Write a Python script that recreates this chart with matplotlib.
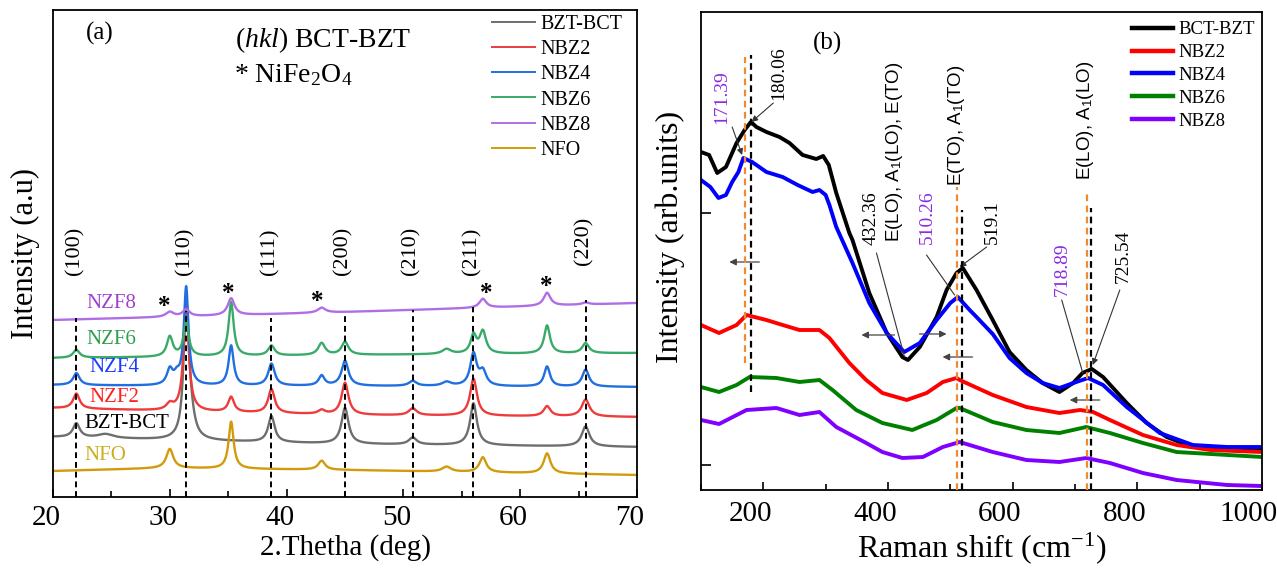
import numpy as np
import matplotlib
matplotlib.use("Agg")
import matplotlib.pyplot as plt
from matplotlib.lines import Line2D
from matplotlib.ticker import MultipleLocator
from matplotlib.transforms import ScaledTranslation

plt.rcParams['font.family'] = ['Liberation Serif', 'DejaVu Serif']
plt.rcParams['mathtext.fontset'] = 'custom'
plt.rcParams['mathtext.rm'] = 'Liberation Serif'
plt.rcParams['mathtext.it'] = 'Liberation Serif:italic'
plt.rcParams['mathtext.sf'] = 'Liberation Sans'

# ---------------- Panel (a): XRD data ----------------
xrd_base_x = [20, 30, 45, 70]

bzt_bct_pos = [22.0, 24.5, 31.4, 31.75, 38.7, 45.0, 50.8, 56.0, 65.6]
bzt_bct_h = [14, 4, 128, 22, 26, 36, 7, 42, 20]
bzt_bct_w = [0.35, 0.8, 0.26, 0.4, 0.33, 0.36, 0.4, 0.35, 0.4]
bzt_bct_base = [60, 57, 53, 50]

nzf2_pos = [22.0, 30.0, 31.4, 35.25, 38.7, 43.0, 45.0, 50.8, 56.0, 62.3, 65.6]
nzf2_h = [15, 6, 111, 15, 24, 4, 32, 7, 37, 10, 17]
nzf2_w = [0.33, 0.35, 0.26, 0.3, 0.33, 0.35, 0.35, 0.4, 0.35, 0.35, 0.4]
nzf2_base = [89, 86, 82, 80]

nzf4_pos = [22.0, 30.0, 30.6, 31.4, 35.25, 38.7, 43.0, 45.0, 50.8, 53.7, 56.0, 56.8, 62.3, 65.6]
nzf4_h = [12, 15, 8, 98, 40, 22, 10, 25, 5, 4, 32, 14, 20, 17]
nzf4_w = [0.33, 0.3, 0.3, 0.24, 0.26, 0.33, 0.3, 0.35, 0.4, 0.45, 0.33, 0.35, 0.3, 0.35]
nzf4_base = [112, 111, 111, 110]

nzf6_pos = [22.0, 30.0, 31.4, 35.25, 38.7, 43.0, 45.0, 53.7, 56.0, 56.8, 62.3, 65.6]
nzf6_h = [8, 20, 35, 54, 10, 12, 13, 5, 18, 22, 28, 10]
nzf6_w = [0.33, 0.3, 0.26, 0.26, 0.33, 0.35, 0.35, 0.45, 0.3, 0.33, 0.3, 0.35]
nzf6_base = [139, 140, 142, 144]

nzf8_pos = [30.0, 31.4, 35.25, 43.0, 56.8, 62.3, 65.6]
nzf8_h = [5, 7, 17, 5, 9, 13, 2]
nzf8_w = [0.4, 0.35, 0.35, 0.4, 0.35, 0.35, 0.35]
nzf8_base = [177, 180, 185, 194]

nfo_pos = [30.0, 35.25, 43.0, 53.7, 56.8, 62.3]
nfo_h = [19, 47, 9, 5, 15, 20]
nfo_w = [0.35, 0.26, 0.35, 0.45, 0.35, 0.35]
nfo_base = [26, 29, 27, 22]

hkl_labels = ['(100)', '(110)', '(111)', '(200)', '(210)', '(211)', '(220)']
hkl_pos = [22.0, 31.4, 38.7, 45.0, 50.8, 56.0, 65.6]
hkl_line_top = [179, 186, 179, 184, 187, 190, 197]
star_pos = [29.5, 35.0, 42.6, 57.1, 62.2]
star_y = [194, 207, 199, 207, 214]

# ---------------- Panel (b): Raman data ----------------
bct_x = [100, 113, 126, 140, 157, 170, 180, 189, 205, 226, 242, 263, 285, 296, 305, 317, 338, 343, 370, 398,
         423, 432, 451, 478, 494, 510, 520, 542, 568, 595, 622, 648, 675, 697, 712, 727, 745, 783, 815, 847,
         889, 944, 1000]
bct_y = [348, 345, 327, 333, 357, 370, 378, 373, 368, 363, 357, 345, 341, 344, 335, 307, 267, 260, 207, 167,
         143, 140, 153, 183, 210, 227, 232, 210, 180, 148, 130, 117, 108, 117, 127, 131, 123, 97, 77, 63,
         53, 52, 50]

nbz4_x = [100, 115, 128, 140, 150, 160, 168, 182, 205, 231, 255, 279, 290, 300, 306, 317, 343, 370, 398, 426,
          451, 478, 500, 512, 531, 542, 568, 595, 622, 648, 675, 702, 721, 745, 783, 836, 889, 944, 1000]
nbz4_y = [320, 313, 302, 305, 318, 328, 342, 338, 328, 323, 315, 308, 310, 305, 295, 273, 237, 197, 167, 148,
          157, 180, 197, 203, 190, 183, 166, 142, 127, 117, 112, 118, 122, 115, 93, 67, 55, 53, 53]

nbz2_x = [100, 129, 157, 173, 205, 231, 258, 290, 306, 338, 365, 391, 430, 462, 488, 510, 515, 568, 622, 675,
          708, 729, 756, 809, 863, 917, 1000]
nbz2_y = [175, 167, 175, 185, 180, 175, 170, 170, 162, 137, 120, 107, 100, 107, 118, 122, 120, 105, 93, 87,
          90, 88, 80, 65, 55, 50, 48]

nbz6_x = [100, 129, 157, 178, 221, 258, 290, 311, 349, 391, 439, 478, 510, 515, 568, 622, 675, 718, 756, 809,
          863, 1000]
nbz6_y = [113, 108, 115, 123, 122, 118, 120, 110, 90, 77, 70, 80, 92, 92, 78, 70, 67, 73, 67, 57,
          48, 43]

nbz8_x = [100, 129, 173, 221, 258, 290, 317, 365, 391, 423, 456, 488, 515, 568, 622, 675, 718, 756, 809, 863,
          944, 1000]
nbz8_y = [80, 76, 90, 92, 85, 88, 73, 57, 48, 42, 43, 53, 58, 48, 40, 38, 42, 37, 27, 20,
          15, 14]

raman_peaks_orange = [171.39, 510.26, 718.89]
raman_peaks_black = [180.06, 519.1, 725.54]

# ---------------- figure ----------------
fig = plt.figure(figsize=(12.77, 5.71), dpi=100)
axa = fig.add_axes([53 / 1277, 1 - 497 / 571, (637 - 53) / 1277, (497 - 10) / 571])
axb = fig.add_axes([701 / 1277, 1 - 490 / 571, (1262 - 701) / 1277, (490 - 12) / 571])

tx = np.linspace(20, 70, 4001)


def profile(pos, h, w, base):
    y = np.interp(tx, xrd_base_x, base)
    for p, a, g in zip(pos, h, w):
        y = y + a * g ** 2 / ((tx - p) ** 2 + g ** 2)
    return y


series_a = [
    ('BZT-BCT', '#6e6e6e', bzt_bct_pos, bzt_bct_h, bzt_bct_w, bzt_bct_base),
    ('NBZ2', '#ee3b3b', nzf2_pos, nzf2_h, nzf2_w, nzf2_base),
    ('NBZ4', '#1f6fe0', nzf4_pos, nzf4_h, nzf4_w, nzf4_base),
    ('NBZ6', '#3aaa6a', nzf6_pos, nzf6_h, nzf6_w, nzf6_base),
    ('NBZ8', '#b06ee6', nzf8_pos, nzf8_h, nzf8_w, nzf8_base),
    ('NFO', '#d29b0b', nfo_pos, nfo_h, nfo_w, nfo_base),
]
for name, col, pos, h, w, base in series_a:
    axa.plot(tx, profile(pos, h, w, base), color=col, lw=1.7, label=name)

for p, top in zip(hkl_pos, hkl_line_top):
    axa.plot([p, p], [0, top], ls=(0, (3, 2)), color='black', lw=1.4, zorder=5)
for lab, p, top in zip(hkl_labels, hkl_pos, hkl_line_top):
    axa.text(p - 0.15, 222 if lab != '(220)' else 232, lab, rotation=90, ha='center', va='bottom',
             fontsize=16)
for p, yv in zip(star_pos, star_y):
    axa.text(p, yv - 10, '*', ha='center', va='baseline', fontsize=18, fontweight='bold')

axa.text(24.0, 464, '(a)', ha='center', va='center', fontsize=18)
axa.text(35.6, 450, r'$\mathit{(hkl)}$ BCT-BZT', ha='left', va='baseline', fontsize=20)
axa.text(35.5, 415, r'* NiFe$_2$O$_4$', ha='left', va='baseline', fontsize=20)

curve_labels = ['NZF8', 'NZF6', 'NZF4', 'NZF2', 'BZT-BCT', 'NFO']
curve_label_x = [22.9, 22.9, 23.1, 23.1, 22.65, 22.65]
curve_label_y = [194, 157, 130, 99, 74, 42]
curve_label_c = ['#a040d0', '#2e9e4f', '#1a3cff', '#ff2020', 'black', '#c8b020']
for t, x, y, c in zip(curve_labels, curve_label_x, curve_label_y, curve_label_c):
    axa.text(x, y, t, color=c, ha='left', va='center', fontsize=15)

axa.set_xlim(20, 70)
axa.set_ylim(0, 487)
axa.set_yticks([])
axa.xaxis.set_major_locator(MultipleLocator(10))
axa.xaxis.set_minor_locator(MultipleLocator(5))
axa.tick_params(axis='x', which='major', direction='in', length=6, width=1.2, labelsize=21, pad=6)
axa.tick_params(axis='x', which='minor', direction='in', length=4, width=1.2)
axa.set_xlabel('2.Thetha (deg)', fontsize=21, labelpad=2)
axa.set_ylabel('Intensity (a.u)', fontsize=22)
axa.yaxis.set_label_coords(-0.048, 0.5)
axa.yaxis.label.set_verticalalignment('center')
for sp in axa.spines.values():
    sp.set_linewidth(1.3)
leg_a = [Line2D([0], [0], color=c, lw=1.4) for _, c, *_ in series_a]
axa.legend(leg_a, [s[0] for s in series_a], loc='upper left',
           bbox_to_anchor=(492 / 1277, 1 - 15 / 571), bbox_transform=fig.transFigure, frameon=False,
           fontsize=14.5, handlelength=2.14, handletextpad=0.25, labelspacing=0.3, borderpad=0,
           borderaxespad=0)

# ---------------- panel (b) ----------------
series_b = [
    ('BCT-BZT', 'black', bct_x, bct_y),
    ('NBZ2', '#ff0000', nbz2_x, nbz2_y),
    ('NBZ4', '#0000ff', nbz4_x, nbz4_y),
    ('NBZ6', '#008000', nbz6_x, nbz6_y),
    ('NBZ8', '#7f00ff', nbz8_x, nbz8_y),
]
for name, col, xs, ys in series_b:
    axb.plot(xs, ys, color=col, lw=2.8, label=name, solid_joinstyle='round')

orange = '#f08a30'
purple_txt = '#8a2be2'
orange_top = [443, 313, 307]
orange_bot = [137, 10, 10]
black_top = [445, 290, 292]
black_bot = [108, 10, 10]
for p, t, b in zip(raman_peaks_orange, orange_top, orange_bot):
    axb.plot([p, p], [b, t], ls=(0, (3, 2)), color=orange, lw=1.6, zorder=4)
for p, t, b in zip(raman_peaks_black, black_top, black_bot):
    axb.plot([p, p], [b, t], ls=(0, (3, 2)), color='black', lw=1.6, zorder=4)

axb.text(828 / 1277, 1 - 43 / 571, '(b)', transform=fig.transFigure, ha='center', va='center', fontsize=18)

num_kw = dict(rotation=90, ha='center', va='center', fontsize=14)
axb.text(132.5, 403, '171.39', color=purple_txt, **num_kw)
axb.text(224, 427, '180.06', color='black', **num_kw)
axb.text(373.5, 282, '432.36', color='black', **num_kw)
axb.text(463.5, 283, '510.26', color=purple_txt, **num_kw)
axb.text(568, 278, '519.1', color='black', **num_kw)
axb.text(679, 231, '718.89', color=purple_txt, **num_kw)
axb.text(778, 244, '725.54', color='black', **num_kw)

mode_kw = dict(rotation=90, ha='center', va='center', fontsize=13.5, family=['Liberation Sans', 'DejaVu Sans'])
axb.text(410.4, 348, r'E(LO), A$_\mathsf{1}$(LO), E(TO)', **mode_kw)
axb.text(510, 375, r'E(TO), A$_\mathsf{1}$(TO)', **mode_kw)
axb.text(717, 380, r'E(LO), A$_\mathsf{1}$(LO)', **mode_kw)

lead = dict(arrowstyle='-|>', lw=0.8, color='#333333', mutation_scale=9, shrinkA=0, shrinkB=0)
plain = dict(arrowstyle='-', lw=0.8, color='#333333', shrinkA=0, shrinkB=0)
axb.annotate('', xy=(181, 378), xytext=(216, 397), arrowprops=lead)
axb.annotate('', xy=(166, 345), xytext=(150, 373), arrowprops=lead)
axb.annotate('', xy=(426.5, 143), xytext=(381.5, 247), arrowprops=plain)
axb.annotate('', xy=(506.8, 205), xytext=(461.8, 245), arrowprops=plain)
axb.annotate('', xy=(514.9, 233), xytext=(558.2, 253), arrowprops=lead)
axb.annotate('', xy=(712.5, 127), xytext=(678.7, 200), arrowprops=plain)
axb.annotate('', xy=(728.5, 135), xytext=(771.9, 210), arrowprops=lead)

harrow = dict(arrowstyle='-|>', lw=0.9, color='#444444', mutation_scale=10, shrinkA=0, shrinkB=0)
axb.annotate('', xy=(145.4, 238), xytext=(193.6, 238), arrowprops=harrow)
axb.annotate('', xy=(357.4, 165), xytext=(410.4, 165), arrowprops=harrow)
axb.annotate('', xy=(494, 166), xytext=(450.6, 166), arrowprops=harrow)
axb.annotate('', xy=(487.6, 143), xytext=(535.7, 143), arrowprops=harrow)
axb.annotate('', xy=(691.6, 100), xytext=(739.8, 100), arrowprops=harrow)

axb.set_xlim(100, 1000)
axb.set_ylim(10, 488)
axb.set_yticks([35, 287])
axb.set_yticklabels([])
axb.xaxis.set_major_locator(MultipleLocator(200))
axb.xaxis.set_minor_locator(MultipleLocator(100))
axb.tick_params(axis='x', which='major', direction='in', length=6, width=1.2, labelsize=21, pad=8)
axb.tick_params(axis='x', which='minor', direction='in', length=4, width=1.2)
axb.tick_params(axis='y', which='major', direction='in', length=7, width=1.2)
axb.set_xlabel('Raman shift (cm$^{-1}$)', fontsize=23, labelpad=2)
axb.set_ylabel('Intensity (arb.units)', fontsize=23)
axb.yaxis.set_label_coords(-0.055, 0.529)
axb.yaxis.label.set_verticalalignment('center')
for sp in axb.spines.values():
    sp.set_linewidth(1.3)
leg_b = [Line2D([0], [0], color=c, lw=3.2) for _, c, *_ in series_b]
axb.legend(leg_b, [s[0] for s in series_b], loc='upper left',
           bbox_to_anchor=(1132 / 1277, 1 - 21 / 571), bbox_transform=fig.transFigure, frameon=False,
           fontsize=13.5, handlelength=2.19, handletextpad=0.27, labelspacing=0.31, borderpad=0,
           borderaxespad=0)

# tick labels sit slightly left of their ticks in the reference
for lab in axa.get_xticklabels():
    lab.set_transform(lab.get_transform() + ScaledTranslation(-7 / 100, 0, fig.dpi_scale_trans))
for lab in axb.get_xticklabels():
    lab.set_transform(lab.get_transform() + ScaledTranslation(-13 / 100, 0, fig.dpi_scale_trans))

fig.savefig('out.png', dpi=100)
